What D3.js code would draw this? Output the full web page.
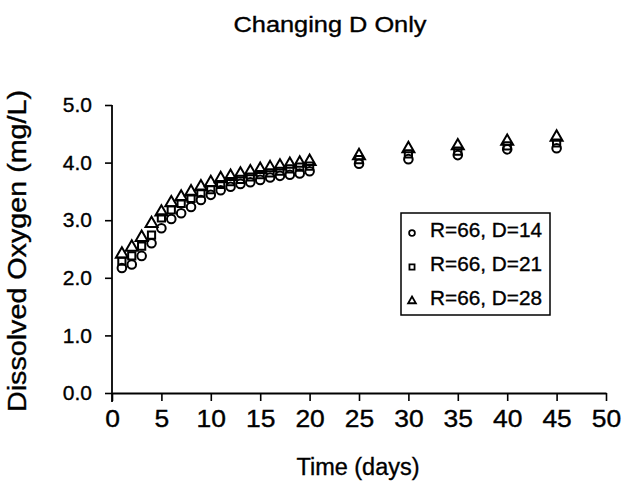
<!DOCTYPE html>
<html>
<head>
<meta charset="utf-8">
<script src="https://cdn.jsdelivr.net/npm/d3@7"></script>
<style>
  body { margin: 0; background: #fff; }
  svg { display: block; }
  text { stroke: #000; stroke-width: 0.35px; }
</style>
</head>
<body>
<div id="container"><svg></svg></div>
<script>
let width = 635;
let height = 485;
let fontFamily = "Liberation Sans, Arial, sans-serif";

// data
let days = [1, 2, 3, 4, 5, 6, 7, 8, 9, 10, 11, 12, 13, 14, 15, 16, 17, 18, 19, 20, 25, 30, 35, 40, 45];
let do_d14 = [2.17, 2.23, 2.38, 2.60, 2.86, 3.02, 3.12, 3.23, 3.35, 3.44, 3.52, 3.58, 3.63, 3.66, 3.70, 3.74, 3.77, 3.79, 3.81, 3.85, 3.98, 4.06, 4.13, 4.23, 4.25];
let do_d21 = [2.29, 2.38, 2.55, 2.74, 3.04, 3.18, 3.29, 3.38, 3.47, 3.53, 3.62, 3.67, 3.71, 3.75, 3.79, 3.82, 3.85, 3.89, 3.92, 3.94, 4.05, 4.15, 4.20, 4.29, 4.34];
let do_d28 = [2.41, 2.53, 2.70, 2.94, 3.14, 3.30, 3.40, 3.49, 3.58, 3.65, 3.72, 3.76, 3.80, 3.84, 3.88, 3.91, 3.94, 3.97, 3.99, 4.02, 4.12, 4.24, 4.29, 4.37, 4.44];
let series_names = ['R=66, D=14', 'R=66, D=21', 'R=66, D=28'];
let series_shapes = ['circle', 'square', 'triangle'];
let x_ticks = [0, 5, 10, 15, 20, 25, 30, 35, 40, 45, 50];
let y_ticks = [0, 1, 2, 3, 4, 5];

let title = 'Changing D Only';
let x_attr = 'Time (days)';
let y_attr = 'Dissolved Oxygen (mg/L)';

function draw_main() {
    let padding = { 'left': 112, 'right': 29, 'top': 105, 'bottom': 92 };
    let svg = d3.select('#container').select('svg')
        .attr('width', width)
        .attr('height', height)
        .style('font-family', fontFamily);

    let x = d3.scaleLinear()
        .domain([0, 50])
        .range([padding.left, width - padding.right]);
    let y = d3.scaleLinear()
        .domain([0, 5])
        .range([height - padding.bottom, padding.top]);

    // title
    svg.append('text')
        .attr('x', 330)
        .attr('y', 32)
        .attr('text-anchor', 'middle')
        .attr('font-size', 22)
        .attr('textLength', 193)
        .attr('lengthAdjust', 'spacingAndGlyphs')
        .text(title);

    // x axis
    let axis_x = d3.axisBottom(x)
        .tickValues(x_ticks)
        .tickSize(8)
        .tickPadding(10)
        .tickSizeOuter(0)
        .tickFormat(d => d);
    let gx = svg.append('g')
        .attr('transform', `translate(0, ${y(0)})`)
        .call(axis_x);
    gx.select('.domain').attr('stroke-width', 1.8);
    gx.selectAll('.tick line').attr('stroke-width', 1.6);
    gx.selectAll('.tick text')
        .attr('font-family', fontFamily)
        .attr('font-size', 23)
        .attr('fill', '#000')
        .attr('transform', 'scale(1.15,1)');

    svg.append('text')
        .attr('x', 358)
        .attr('y', 475)
        .attr('text-anchor', 'middle')
        .attr('font-size', 23)
        .attr('textLength', 123)
        .attr('lengthAdjust', 'spacingAndGlyphs')
        .text(x_attr);

    // y axis
    let axis_y = d3.axisLeft(y)
        .tickValues(y_ticks)
        .tickSize(7)
        .tickPadding(13)
        .tickSizeOuter(0)
        .tickFormat(d3.format('.1f'));
    let gy = svg.append('g')
        .attr('transform', `translate(${x(0)}, 0)`)
        .call(axis_y);
    gy.select('.domain').attr('stroke-width', 1.8)
        .attr('d', `M0,${y(5)}V${y(0) + 9}`);
    gy.selectAll('.tick line').attr('stroke-width', 1.6);
    gy.selectAll('.tick text')
        .attr('font-family', fontFamily)
        .attr('font-size', 21)
        .attr('fill', '#000');

    svg.append('g')
        .attr('transform', 'translate(26, 251) rotate(-90)')
        .append('text')
        .attr('text-anchor', 'middle')
        .attr('font-size', 25)
        .attr('textLength', 322)
        .attr('lengthAdjust', 'spacingAndGlyphs')
        .text(y_attr);

    // points
    let symbols = {
        'circle': d3.symbol().type(d3.symbolCircle).size(58),
        'square': d3.symbol().type(d3.symbolSquare).size(52),
        'triangle': d3.symbol().type(d3.symbolTriangle).size(62)
    };
    let all_series = [do_d14, do_d21, do_d28];
    all_series.forEach((vals, k) => {
        svg.append('g')
            .selectAll('path')
            .data(days)
            .enter().append('path')
            .attr('d', symbols[series_shapes[k]])
            .attr('transform', (d, i) => `translate(${x(d)}, ${y(vals[i])})`)
            .attr('fill', 'none')
            .attr('stroke', '#000')
            .attr('stroke-width', 2);
    });

    // legend
    let lg = svg.append('g');
    lg.append('rect')
        .attr('x', 401)
        .attr('y', 213)
        .attr('width', 149)
        .attr('height', 102)
        .attr('fill', '#fff')
        .attr('stroke', '#000')
        .attr('stroke-width', 1.5);
    let legend = lg.selectAll('.legend')
        .data(series_names)
        .enter().append('g')
        .attr('class', 'legend')
        .attr('transform', (d, i) => `translate(0, ${237 + i * 34})`);
    legend.append('path')
        .attr('d', (d, i) => d3.symbol().type([d3.symbolCircle, d3.symbolSquare, d3.symbolTriangle][i]).size(26)())
        .attr('transform', 'translate(412, -4)')
        .attr('fill', 'none')
        .attr('stroke', '#000')
        .attr('stroke-width', 1.8);
    legend.append('text')
        .attr('x', 430)
        .attr('y', 0)
        .attr('font-size', 20)
        .attr('textLength', 112)
        .attr('lengthAdjust', 'spacingAndGlyphs')
        .text(d => d);
}

draw_main();
</script>
</body>
</html>
